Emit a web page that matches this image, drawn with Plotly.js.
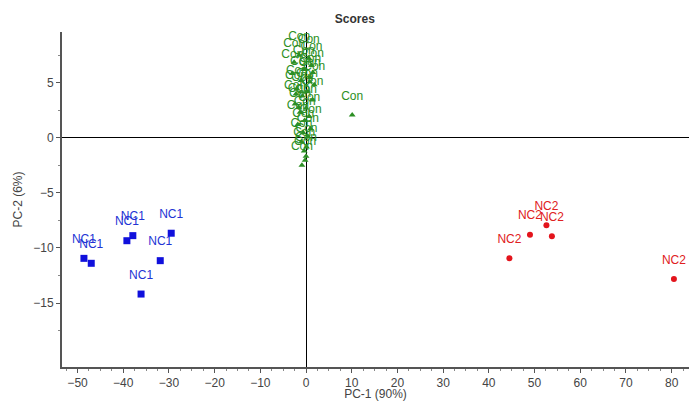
<!DOCTYPE html>
<html><head><meta charset="utf-8">
<script src="https://cdn.plot.ly/plotly-3.0.1.min.js"></script>
<style>html,body{margin:0;padding:0;background:#fff}#chart{width:689px;height:401px}</style>
</head><body><div id="chart"></div>
<script>
// NC1 group (blue squares)
const nc1X = [-48.6, -47.0, -39.2, -37.9, -29.5, -31.9, -36.1];
const nc1Y = [-10.94, -11.39, -9.34, -8.88, -8.66, -11.15, -14.18];
// NC2 group (red circles)
const nc2X = [44.5, 49.0, 52.6, 53.8, 80.5];
const nc2Y = [-10.94, -8.79, -7.94, -8.94, -12.82];
// Con group (green triangles)
const conX = [-1.5, 0.6, -2.6, 1.2, -0.5, -3.0, 0.9, -1.1, 1.8, -2.0, 0.2, -0.8, 1.4, -2.4, 0.0, -1.3, 0.7, -0.3, -1.8, 1.0, -0.6, 0.4, -1.0, 0.1, -0.4, 0.0, -0.2, -0.9, -2.2, 0.8, -1.6, 1.5, 10.1];
const conY = [7.5, 7.22, 6.85, 6.57, 6.2, 5.83, 5.46, 5.19, 4.81, 4.44, 4.17, 3.8, 3.43, 3.06, 2.69, 2.31, 1.94, 1.57, 1.2, 0.83, 0.46, 0.09, -0.37, -0.83, -1.2, -1.67, -2.04, -2.5, 3.98, 5.09, 2.78, 5.93, 2.06];
// Tick values
const xTicks = [-50, -40, -30, -20, -10, 0, 10, 20, 30, 40, 50, 60, 70, 80];
const yTicks = [-15, -10, -5, 0, 5];
const yMinor = [-17.5, -12.5, -7.5, -2.5, 2.5, 7.5];

const FONT = 'Liberation Sans, Arial, sans-serif';
function markers(x, y, name, color, symbol, size) {
  return {x: x, y: y, type: 'scatter', mode: 'markers', name: name,
    marker: {color: color, symbol: symbol, size: size}, hoverinfo: 'skip'};
}
function labels(x, y, name, color) {
  return {x: x, y: y, type: 'scatter', mode: 'markers+text', name: name,
    text: x.map(() => name), textposition: 'top center',
    textfont: {family: FONT, size: 12, color: color},
    marker: {size: 18, opacity: 0, color: color}, cliponaxis: false, hoverinfo: 'skip'};
}
const data = [
  labels(conX, conY, 'Con', '#2c8f24'),
  markers(conX, conY, 'Con', '#2c8f24', 'triangle-up', 6),
  labels(nc1X, nc1Y, 'NC1', '#2233d4'),
  markers(nc1X, nc1Y, 'NC1', '#1010dc', 'square', 7),
  labels(nc2X, nc2Y, 'NC2', '#e02020'),
  markers(nc2X, nc2Y, 'NC2', '#e3141c', 'circle', 6)
];
const layout = {
  width: 689, height: 401,
  margin: {l: 62, r: 0, t: 32, b: 34},
  paper_bgcolor: '#fff', plot_bgcolor: '#fff',
  showlegend: false,
  font: {family: FONT, size: 12, color: '#444'},
  title: {text: 'Scores', font: {family: FONT, size: 12, color: '#333', weight: 'bold'},
          x: 0.467, xref: 'paper', xanchor: 'center', y: 0.953, yref: 'container', yanchor: 'middle'},
  xaxis: {
    range: [-53.4, 83.8], tickmode: 'array', tickvals: xTicks,
    showgrid: false, zeroline: true, zerolinecolor: '#000', zerolinewidth: 1,
    showline: true, linecolor: '#555', linewidth: 2,
    ticks: 'outside', ticklen: 4, tickcolor: '#555', tickwidth: 1,
    minor: {dtick: 2.5, tick0: 0, ticks: 'outside', ticklen: 2, tickcolor: '#888', showgrid: false},
    tickfont: {family: FONT, size: 12, color: '#444'},
    title: {text: 'PC-1 (90%)', font: {family: FONT, size: 12, color: '#444'}, standoff: 3}
  },
  yaxis: {
    range: [-20.8, 9.6], tickmode: 'array', tickvals: yTicks,
    showgrid: false, zeroline: true, zerolinecolor: '#000', zerolinewidth: 1,
    showline: true, linecolor: '#555', linewidth: 2,
    ticks: 'outside', ticklen: 4, tickcolor: '#555', tickwidth: 1,
    minor: {tickmode: 'array', tickvals: yMinor, ticks: 'outside', ticklen: 2, tickcolor: '#888', showgrid: false},
    tickfont: {family: FONT, size: 12, color: '#444'},
    title: {text: 'PC-2 (6%)', font: {family: FONT, size: 12, color: '#444'}, standoff: 8}
  }
};
Plotly.newPlot('chart', data, layout, {displayModeBar: false, staticPlot: true});
</script>
</body></html>
